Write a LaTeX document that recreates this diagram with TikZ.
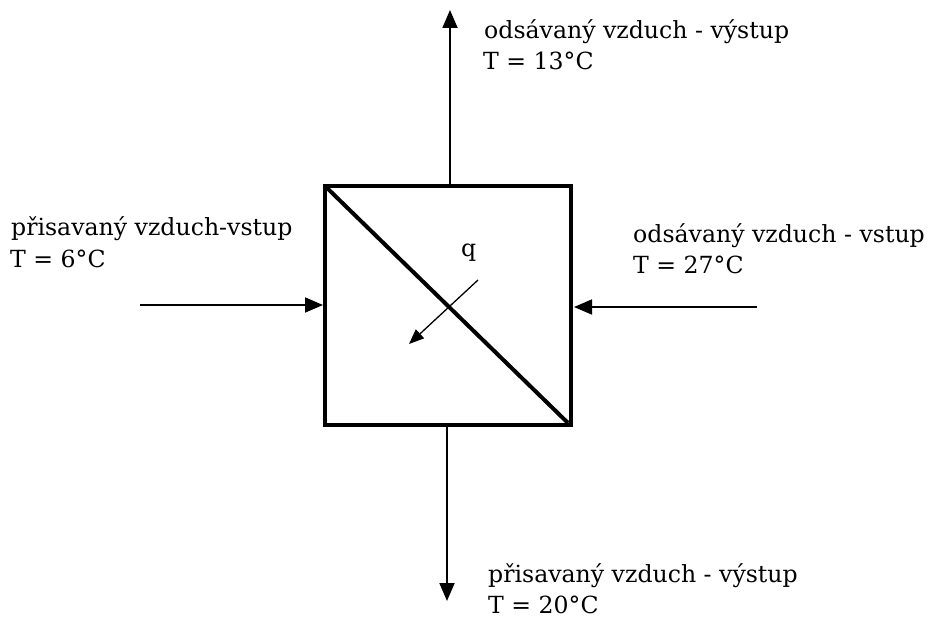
\documentclass[tikz,border=0pt]{standalone}
\usepackage{fontspec}
\setmainfont{DejaVu Serif}
\usetikzlibrary{arrows.meta}
\begin{document}
\begin{tikzpicture}[x=1pt,y=-1pt,
  lbl/.style={anchor=base west,inner sep=0pt,font=\fontsize{23.6}{28}\selectfont},
  flow/.style={line width=1.8pt,-{Triangle[length=18pt,width=15pt]}},
  heat/.style={line width=1.3pt,-{Triangle[length=15pt,width=12pt]}}]
\useasboundingbox (0,0) rectangle (928,618);
% exchanger box
\coordinate (tl) at (325,186);
\coordinate (br) at (571,425);
\draw[line width=4.5pt] (tl) rectangle (br);
\draw[line width=4pt] (tl) -- (568,423);
% flows
\coordinate (topin) at (450,186);
\coordinate (topout) at (450,10);
\draw[flow] (topin) -- (topout);
\coordinate (botin) at (447,425);
\coordinate (botout) at (447,601);
\draw[flow] (botin) -- (botout);
\coordinate (leftin) at (140,305);
\coordinate (leftout) at (323,305);
\draw[flow] (leftin) -- (leftout);
\coordinate (rightin) at (757,307);
\coordinate (rightout) at (574,307);
\draw[flow] (rightin) -- (rightout);
% heat flow
\coordinate (qa) at (478,280);
\coordinate (qb) at (409,344);
\draw[heat] (qa) -- (qb);
\node[lbl] (q) at (461,256) {q};
% labels
\node[lbl] (t1) at (484,38) {odsávaný vzduch - výstup};
\node[lbl] (t2) at (483,70) {T = 13°C};
\node[lbl] (l1) at (11,235) {přisavaný vzduch-vstup};
\node[lbl] (l2) at (10,267) {T = 6°C};
\node[lbl] (r1) at (633,242) {odsávaný vzduch - vstup};
\node[lbl] (r2) at (633,273) {T = 27°C};
\node[lbl] (b1) at (488,582) {přisavaný vzduch - výstup};
\node[lbl] (b2) at (488,613) {T = 20°C};
\end{tikzpicture}
\end{document}
